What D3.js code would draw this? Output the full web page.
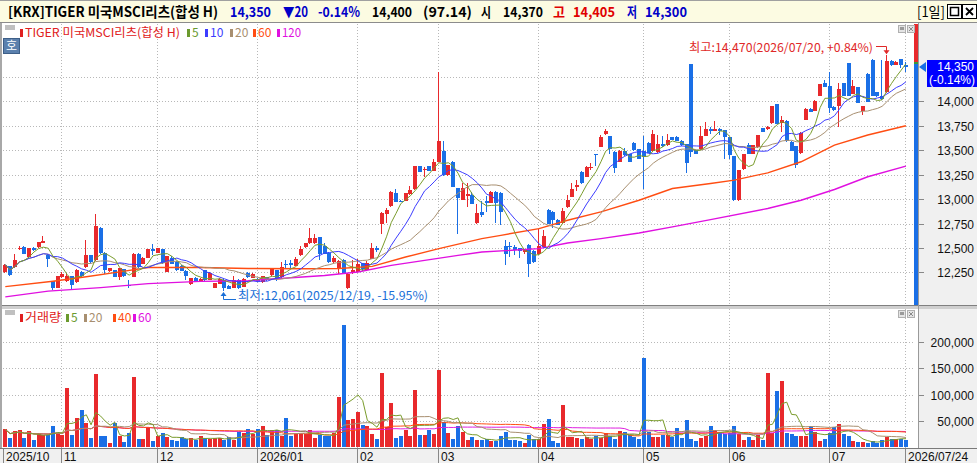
<!DOCTYPE html>
<html>
<head>
<meta charset="utf-8">
<script src="https://cdn.jsdelivr.net/npm/d3@7"></script>
<style>
  body { margin: 0; background: #fff; overflow: hidden; }
</style>
</head>
<body>
<svg id="chart" width="977" height="463"></svg>
<script>
// Daily candles, 2025/10/16 .. 2026/07/24
const opens = [12255,12315,12305,12495,12510,12405,12500,12505,12555,12425,
  12160,12095,12205,12160,12210,12150,12255,12305,12425,12375,
  12705,12450,12260,12270,12205,12280,12125,12205,12440,12340,
  12400,12485,12450,12485,12255,12400,12360,12320,12265,12130,
  12195,12160,12270,12175,12095,12135,12175,12115,12095,12175,
  12105,12245,12195,12185,12150,12200,12220,12270,12200,12340,
  12345,12320,12425,12505,12550,12550,12610,12525,12450,12355,
  12280,12380,12090,12255,12255,12345,12275,12390,12500,12750,
  12850,12925,13065,12985,12980,13050,13100,13335,13300,13335,
  13290,13380,13495,13245,13380,13110,12995,13030,13040,12755,
  12870,12980,12960,13075,13065,12525,12525,12510,12495,12460,
  12535,12470,12435,12510,12890,12870,12790,12755,12915,13025,
  13125,13280,13230,13315,13460,13535,13665,13640,13485,13380,
  13495,13460,13575,13510,13495,13575,13495,13480,13560,13550,
  13630,13630,13595,13560,14380,13500,13510,13645,13715,13700,
  13715,13705,13630,13440,12990,13305,13550,13465,13530,13725,
  13715,13775,13970,13775,13800,13585,13540,13470,13810,13925,
  13905,14055,14185,14155,13945,13950,14185,14390,14075,14145,
  13905,14280,14425,14090,14055,14090,14415,14375,14430,14370];

const highs = [12335,12320,12440,12525,12525,12500,12510,12565,12620,12440,
  12165,12215,12250,12240,12215,12280,12260,12585,12430,12845,
  12710,12455,12295,12275,12300,12285,12175,12445,12445,12410,
  12490,12545,12500,12490,12420,12420,12365,12325,12270,12195,
  12200,12190,12275,12250,12145,12190,12180,12120,12215,12180,
  12190,12250,12240,12190,12215,12205,12285,12275,12355,12375,
  12375,12405,12525,12555,12700,12645,12615,12550,12455,12415,
  12375,12390,12240,12380,12390,12350,12365,12550,12525,12865,
  12905,13080,13100,12990,13065,13130,13340,13340,13330,13340,
  13405,14295,13595,13350,13385,13115,13160,13160,13075,12950,
  12975,13030,13080,13080,13070,12580,12560,12530,12500,12490,
  12540,12475,12690,12680,12895,12875,12795,12905,13040,13165,
  13190,13285,13335,13370,13465,13655,13720,13645,13490,13500,
  13520,13465,13580,13515,13640,13580,13705,13655,13645,13665,
  13635,13645,13600,13565,14385,13505,13745,13790,13740,13800,
  13725,13710,13635,13445,13300,13465,13570,13555,13660,13730,
  13745,13955,13975,13850,13805,13590,13545,13685,13930,13935,
  14010,14180,14220,14295,13950,14185,14190,14395,14220,14150,
  13955,14285,14430,14095,14425,14470,14420,14410,14435,14405];

const lows = [12245,12210,12300,12475,12435,12400,12470,12500,12550,12310,
  12075,12090,12190,12155,12070,12145,12205,12300,12350,12370,
  12440,12235,12255,12200,12170,12205,12095,12200,12300,12335,
  12395,12425,12445,12340,12250,12335,12265,12260,12170,12125,
  12155,12155,12165,12170,12090,12130,12061,12080,12090,12080,
  12100,12190,12190,12150,12145,12165,12215,12165,12195,12290,
  12290,12315,12420,12500,12545,12545,12380,12435,12350,12350,
  12235,12230,12085,12235,12250,12265,12270,12385,12460,12645,
  12755,12920,12965,12965,12975,13045,13095,13275,13230,13285,
  13285,13375,13240,13240,13120,12645,12990,12920,12945,12750,
  12820,12870,12955,12755,12730,12330,12405,12425,12400,12435,
  12200,12350,12430,12505,12740,12700,12730,12750,12910,13020,
  13085,13155,13225,13300,13335,13530,13660,13465,13270,13375,
  13445,13375,13495,13405,13100,13470,13490,13475,13535,13545,
  13600,13590,13545,13270,13425,13460,13505,13640,13670,13695,
  13660,13405,13405,12980,12980,13300,13460,13460,13525,13685,
  13710,13770,13765,13690,13585,13490,13320,13465,13805,13890,
  13900,14050,14145,13875,13905,13735,14050,14050,14070,13980,
  13860,13990,14050,14040,14015,14085,14365,14370,14345,14300];

const closes = [12330,12220,12380,12500,12440,12495,12475,12560,12570,12385,
  12095,12210,12235,12210,12120,12270,12210,12425,12355,12720,
  12445,12270,12290,12205,12290,12210,12115,12440,12305,12400,
  12485,12470,12495,12345,12415,12340,12270,12265,12210,12190,
  12160,12185,12170,12245,12140,12185,12095,12085,12170,12095,
  12185,12200,12235,12160,12210,12170,12280,12195,12305,12325,
  12330,12390,12490,12550,12605,12605,12440,12440,12355,12400,
  12370,12235,12235,12275,12340,12280,12345,12500,12475,12860,
  12890,13075,12970,12970,13060,13090,13335,13280,13310,13290,
  13380,13595,13245,13345,13125,13015,13115,13050,12950,12860,
  12835,12955,13075,12960,12870,12435,12505,12475,12470,12485,
  12340,12355,12515,12620,12745,12790,12735,12880,12990,13105,
  13140,13160,13330,13330,13450,13635,13700,13510,13315,13495,
  13450,13380,13500,13410,13430,13475,13665,13560,13540,13600,
  13605,13595,13550,13365,13485,13465,13645,13715,13700,13720,
  13700,13630,13450,12990,13295,13460,13465,13550,13655,13690,
  13740,13950,13770,13805,13590,13495,13350,13680,13925,13895,
  14005,14175,14150,13930,13910,14125,14055,14055,14155,13985,
  13950,13995,14055,14050,14020,14415,14375,14405,14370,14350];

const volumes = [34000,18000,31000,33000,18000,31000,14000,27000,23000,23000,
  41000,27000,23000,113000,23000,56000,71000,46000,18000,140000,
  22000,22000,8000,46000,22000,10000,27000,134000,16000,16000,
  39000,12000,22000,27000,20000,14000,12000,19000,15000,17000,
  13000,22000,17000,16000,17000,17000,13000,19000,14000,30000,
  27000,35000,25000,35000,41000,23000,33000,33000,22000,56000,
  22000,27000,25000,25000,33000,17000,23000,22000,22000,27000,
  96000,232000,51000,53000,67000,42000,41000,25000,16000,142000,
  39000,85000,18000,22000,32000,22000,109000,23000,23000,32000,
  25000,147000,49000,27000,16000,41000,30000,14000,19000,14000,
  14000,15000,12000,12000,22000,29000,14000,14000,12000,8000,
  23000,15000,15000,44000,54000,12000,8000,80000,20000,19000,
  17000,16000,19000,16000,22000,17000,27000,22000,16000,31000,
  29000,23000,19000,16000,170000,29000,19000,19000,23000,23000,
  20000,36000,18000,52000,16000,12000,17000,22000,41000,32000,
  27000,25000,27000,41000,25000,14000,19000,14000,23000,14000,
  141000,27000,107000,126000,28000,25000,22000,22000,22000,41000,
  29000,12000,16000,27000,39000,44000,25000,22000,12000,10000,
  10000,9000,12000,9000,14000,19000,16000,16000,16000,14400];

// 60 / 120 day averages need history that is not on screen: read at sample points
const ma60Idx = [0,10,17,24,30,41,51,63,70,77,84,91,100,104,112,118,125,133,140,148,153,160,167,174,181,189];
const ma60Val = [12105,12160,12205,12255,12300,12300,12290,12288,12290,12312,12407,12493,12595,12629,12698,12783,12869,12988,13108,13159,13193,13268,13381,13552,13655,13750];
const ma120Idx = [0,9,20,30,41,51,67,74,81,88,95,100,112,118,125,133,140,148,160,167,174,181,189];
const ma120Val = [12000,12059,12094,12135,12158,12165,12219,12254,12322,12373,12424,12458,12493,12551,12595,12653,12715,12790,12903,12988,13098,13228,13337];

const monthLabels = ["2025/10","11","12","2026/01","02","03","04","05","06","07","2026/07/24"];
const monthIdx = [0,12,32,53,74,91,112,134,152,173,189];
const priceTicks = [12250,12500,12750,13000,13250,13500,13750,14000];
const priceGrid = [12250,12500,12750,13000,13250,13500,13750,14000,14250];
const volTicks = [50000,100000,150000,200000];

const RED = "#e8292c", BLUE = "#1a6fe6";
const KR = '"Noto Sans CJK KR", sans-serif';
const NUM = '"Liberation Sans", sans-serif';

const svg = d3.select("#chart");
const W = 977;
const plotRight = 913;
const priceTop = 23, priceBottom = 305, volTop = 309, volBottom = 447.5;

const x = d3.scaleLinear().domain([0, closes.length - 1]).range([5.3, 905.9]);
const y = d3.scaleLinear().domain([12250, 13750]).range([272.4, 125.7]);
const yv = d3.scaleLinear().domain([0, 200000]).range([447.3, 342.1]);

// moving average over the visible window (shorter window at the left edge)
function movingAvg(arr, n) {
  return arr.map((d, i) => d3.mean(arr.slice(Math.max(0, i - n + 1), i + 1)));
}
function numText(g, s, xx, yy, anchor, col) {
  return g.append("text").attr("x", xx).attr("y", yy).attr("text-anchor", anchor)
    .attr("font-family", NUM).attr("font-size", 12).attr("fill", col).text(s);
}

// ---- backgrounds
svg.append("rect").attr("width", W).attr("height", 463).attr("fill", "#fff");
svg.append("rect").attr("x", 0).attr("y", 0).attr("width", W).attr("height", 22).attr("fill", "#fcfbe2");
svg.append("line").attr("x1", 0).attr("x2", W).attr("y1", 0.5).attr("y2", 0.5).attr("stroke", "#a0a0a0");
svg.append("line").attr("x1", 0).attr("x2", W).attr("y1", 22.5).attr("y2", 22.5).attr("stroke", "#8c8c8c");
svg.append("rect").attr("x", 919).attr("y", 23).attr("width", 58).attr("height", 425).attr("fill", "#f0f0f0");
svg.append("rect").attr("x", 0).attr("y", 448).attr("width", W).attr("height", 15).attr("fill", "#f0f0f0");
svg.append("line").attr("x1", 0).attr("x2", W).attr("y1", 448.5).attr("y2", 448.5).attr("stroke", "#7a7a7a");
svg.append("rect").attr("x", 0).attr("y", priceBottom).attr("width", W).attr("height", 4).attr("fill", "#cfcfcf");
svg.append("line").attr("x1", 0).attr("x2", W).attr("y1", priceBottom + 0.5).attr("y2", priceBottom + 0.5).attr("stroke", "#808080");
svg.append("rect").attr("x", 0).attr("y", 23).attr("width", 2).attr("height", 425).attr("fill", "#a8a8a8");
svg.append("line").attr("x1", 918.5).attr("x2", 918.5).attr("y1", 23).attr("y2", 448).attr("stroke", "#9a9a9a");

// ---- grids
const grid = svg.append("g").attr("stroke", "#b8b8b8").attr("stroke-dasharray", "1,2").attr("shape-rendering", "crispEdges");
priceGrid.forEach(p => {
  const yy = Math.round(y(p)) + 0.5;
  grid.append("line").attr("x1", 3).attr("x2", plotRight).attr("y1", yy).attr("y2", yy);
});
volTicks.forEach(v => {
  const yy = Math.round(yv(v)) + 0.5;
  grid.append("line").attr("x1", 3).attr("x2", plotRight).attr("y1", yy).attr("y2", yy);
});
monthIdx.slice(1).forEach(i => {
  const xx = Math.round(x(i)) - 0.5;
  grid.append("line").attr("x1", xx).attr("x2", xx).attr("y1", priceTop + 1).attr("y2", priceBottom);
  grid.append("line").attr("x1", xx).attr("x2", xx).attr("y1", volTop).attr("y2", volBottom);
});

// ---- moving averages (price)
const lineIdx = d3.line().x((d, i) => x(i)).y(d => y(d));
const ma5 = movingAvg(closes, 5), ma10 = movingAvg(closes, 10), ma20 = movingAvg(closes, 20);
const sparse = (idx, val) => idx.map((d, k) => [x(d), y(val[k])]);

const maG = svg.append("g").attr("fill", "none");
maG.append("path").attr("d", d3.line()(sparse(ma120Idx, ma120Val))).attr("stroke", "#e010e0").attr("stroke-width", 1.4);
maG.append("path").attr("d", d3.line()(sparse(ma60Idx, ma60Val))).attr("stroke", "#ff4d12").attr("stroke-width", 1.4);

// ---- candles
const candleG = svg.append("g").attr("shape-rendering", "crispEdges");
closes.forEach((c, i) => {
  const cx = Math.round(x(i));
  const o = opens[i];
  const col = c >= o ? RED : BLUE;
  candleG.append("rect")
    .attr("x", cx - 1).attr("width", 1)
    .attr("y", y(highs[i])).attr("height", Math.max(1, y(lows[i]) - y(highs[i])))
    .attr("fill", col);
  const top = y(Math.max(o, c)), bot = y(Math.min(o, c));
  candleG.append("rect")
    .attr("x", cx - 2).attr("width", 4)
    .attr("y", top).attr("height", Math.max(1, bot - top))
    .attr("fill", col);
});

maG.raise();
maG.append("path").attr("d", lineIdx(ma20)).attr("stroke", "#a88f70").attr("stroke-width", 1);
maG.append("path").attr("d", lineIdx(ma10)).attr("stroke", "#3c3cff").attr("stroke-width", 1);
maG.append("path").attr("d", lineIdx(ma5)).attr("stroke", "#7a9c2c").attr("stroke-width", 1);

// ---- volume
const volG = svg.append("g").attr("shape-rendering", "crispEdges");
volumes.forEach((v, i) => {
  const cx = Math.round(x(i));
  volG.append("rect")
    .attr("x", cx - 2).attr("width", 4)
    .attr("y", Math.max(volTop, yv(v))).attr("height", yv(0) - Math.max(volTop, yv(v)))
    .attr("fill", closes[i] >= opens[i] ? RED : BLUE);
});
const vLine = d3.line().x((d, i) => x(i)).y(d => yv(d));
[[60, "#e020e0"], [40, "#ff4d12"], [20, "#a88f70"], [5, "#7a9c2c"]].forEach(([n, col]) => {
  svg.append("path").attr("d", vLine(movingAvg(volumes, n))).attr("fill", "none").attr("stroke", col).attr("stroke-width", 1);
});

// ---- right axes
const axG = svg.append("g");
priceTicks.forEach(p => {
  const yy = Math.round(y(p)) + 0.5;
  axG.append("line").attr("x1", 919).attr("x2", 924).attr("y1", yy).attr("y2", yy).attr("stroke", "#888");
  numText(axG, d3.format(",")(p), 974, yy + 4.5, "end", "#111");
});
volTicks.forEach(v => {
  const yy = Math.round(yv(v)) + 0.5;
  axG.append("line").attr("x1", 919).attr("x2", 924).attr("y1", yy).attr("y2", yy).attr("stroke", "#888");
  numText(axG, d3.format(",")(v), 974, yy + 4.5, "end", "#111");
});

// side gauge and current price flag
svg.append("rect").attr("x", 914).attr("y", 24).attr("width", 4).attr("height", 38).attr("fill", RED);
svg.append("rect").attr("x", 914).attr("y", 62).attr("width", 4).attr("height", 2).attr("fill", "#3a9a3a");
svg.append("rect").attr("x", 914).attr("y", 64).attr("width", 4).attr("height", priceBottom - 64).attr("fill", BLUE);
const last = closes[closes.length - 1];
svg.append("path").attr("d", `M919,${y(last)}L926,${y(last) - 5}L926,${y(last) + 5}Z`).attr("fill", BLUE);
svg.append("rect").attr("x", 927).attr("y", 60).attr("width", 50).attr("height", 27).attr("fill", "#0000ff");
numText(svg, d3.format(",")(last), 974, 70.5, "end", "#fff");
numText(svg, "(-0.14%)", 975, 84, "end", "#fff");

// ---- x axis labels
monthLabels.forEach((lab, k) => {
  const xx = Math.round(x(monthIdx[k])) - 0.5 - (k === 0 ? 1 : 0);
  svg.append("line").attr("x1", xx).attr("x2", xx).attr("y1", 449).attr("y2", 463).attr("stroke", "#888");
  numText(svg, lab, xx + 2.5, 460.5, "start", "#111");
});

// ---- header
const red = "#e00000", navy = "#0000c8";
const headerParts = [
  { t: "[KRX]TIGER 미국MSCI리츠(합성 H)", x: 8, w: 210, c: "#000" },
  { t: "14,350", x: 230, w: 41, c: navy }, { t: "▼20", x: 283, w: 25, c: navy },
  { t: "-0.14%", x: 318, w: 42, c: navy }, { t: "14,400", x: 372, w: 40, c: "#000" },
  { t: "(97.14)", x: 423, w: 49, c: "#000" }, { t: "시", x: 481, w: 10, c: "#000" },
  { t: "14,370", x: 503, w: 40, c: "#000" }, { t: "고", x: 553, w: 12, c: red },
  { t: "14,405", x: 573, w: 42, c: red }, { t: "저", x: 627, w: 10, c: navy },
  { t: "14,300", x: 645, w: 42, c: navy }, { t: "[1일]", x: 917, w: 28, c: "#000" }
];
headerParts.forEach(h => {
  svg.append("text").attr("x", h.x).attr("y", 17).attr("font-family", KR).attr("font-size", 14)
    .attr("font-weight", h.t === "[1일]" ? 400 : 700)
    .attr("textLength", h.w).attr("lengthAdjust", "spacingAndGlyphs").attr("fill", h.c).text(h.t);
});
svg.append("rect").attr("x", 947.5).attr("y", 4.5).attr("width", 14).attr("height", 14).attr("fill", "#fff").attr("stroke", "#000");
svg.append("rect").attr("x", 950.5).attr("y", 7.5).attr("width", 8).attr("height", 8).attr("fill", "none").attr("stroke", "#000").attr("stroke-width", 1.5);
svg.append("rect").attr("x", 962.5).attr("y", 4.5).attr("width", 14).attr("height", 14).attr("fill", "#fff").attr("stroke", "#000");
svg.append("path").attr("d", "M966,8L973,15M973,8L966,15").attr("stroke", "#000").attr("stroke-width", 1.8);

// ---- legends
function legend(items, yy) {
  items.forEach(it => {
    svg.append("rect").attr("x", it.x - 5).attr("y", yy - 8).attr("width", 3).attr("height", 8).attr("fill", it.c);
    const t = svg.append("text").attr("x", it.x).attr("y", yy).attr("font-family", KR).attr("font-size", 12)
      .attr("fill", it.c).text(it.t);
    if (it.w) t.attr("textLength", it.w).attr("lengthAdjust", "spacingAndGlyphs");
  });
}
svg.append("rect").attr("x", 5).attr("y", 25).attr("width", 10).attr("height", 5).attr("fill", "#c0c0c0");
legend([
  { t: "TIGER 미국MSCI리츠(합성 H)", x: 25, w: 155, c: "#e02020" },
  { t: "5", x: 192, c: "#6b9a2e" }, { t: "10", x: 210, c: "#3c3cff" },
  { t: "20", x: 235, c: "#a88f70" }, { t: "60", x: 258, c: "#ff4d12" },
  { t: "120", x: 282, w: 19, c: "#e010e0" }
], 37);
svg.append("rect").attr("x", 5).attr("y", 310).attr("width", 10).attr("height", 5).attr("fill", "#c0c0c0");
legend([
  { t: "거래량", x: 25, w: 36, c: "#e02020" }, { t: "5", x: 71, c: "#6b9a2e" },
  { t: "20", x: 89, c: "#a88f70" }, { t: "40", x: 118, c: "#ff4d12" }, { t: "60", x: 138, c: "#e010e0" }
], 322);

// 호 button
svg.append("rect").attr("x", 3.5).attr("y", 38.5).attr("width", 16).attr("height", 15).attr("fill", "#5b80ad").attr("stroke", "#3e5f88");
svg.append("text").attr("x", 11.5).attr("y", 50).attr("text-anchor", "middle").attr("font-family", KR)
  .attr("font-size", 12).attr("fill", "#fff").text("호");

// panel buttons
[25, 310].forEach(yy => {
  [898, 907].forEach((xx, k) => {
    svg.append("rect").attr("x", xx + 0.5).attr("y", yy + 0.5).attr("width", 7).attr("height", 7)
      .attr("fill", "#e4e4e4").attr("stroke", "#b0b0b0");
    if (k === 0) svg.append("rect").attr("x", xx + 2).attr("y", yy + 2).attr("width", 4).attr("height", 3).attr("fill", "#9a9a9a");
    else svg.append("path").attr("d", `M${xx + 2},${yy + 2}L${xx + 6},${yy + 6}M${xx + 6},${yy + 2}L${xx + 2},${yy + 6}`).attr("stroke", "#8a8a8a");
  });
});

// ---- high / low annotations
const hiIdx = highs.indexOf(d3.max(highs)), loIdx = lows.indexOf(d3.min(lows));
const hx = Math.round(x(hiIdx)) - 0.5, lx = Math.round(x(loIdx)) - 0.5;
svg.append("text").attr("x", 689).attr("y", 52).attr("font-family", KR).attr("font-size", 12)
  .attr("textLength", 184).attr("lengthAdjust", "spacingAndGlyphs").attr("fill", "#e02828")
  .text(`최고:${d3.format(",")(d3.max(highs))}(2026/07/20, +0.84%)`);
svg.append("path").attr("d", `M876,46.5H${hx}V${y(d3.max(highs)) - 2}`).attr("fill", "none").attr("stroke", "#e02828");
svg.append("path").attr("d", `M${hx - 3},${y(d3.max(highs)) - 5}L${hx + 3},${y(d3.max(highs)) - 5}L${hx},${y(d3.max(highs)) - 1}Z`).attr("fill", "#e02828");

svg.append("text").attr("x", 238).attr("y", 300).attr("font-family", KR).attr("font-size", 12)
  .attr("textLength", 190).attr("lengthAdjust", "spacingAndGlyphs").attr("fill", "#1a6fd8")
  .text(`최저:${d3.format(",")(d3.min(lows))}(2025/12/19, -15.95%)`);
svg.append("path").attr("d", `M${lx},${y(d3.min(lows)) + 2}V299.5H236`).attr("fill", "none").attr("stroke", "#1a6fd8");
svg.append("path").attr("d", `M${lx - 3},${y(d3.min(lows)) + 5}L${lx + 3},${y(d3.min(lows)) + 5}L${lx},${y(d3.min(lows)) + 1}Z`).attr("fill", "#1a6fd8");
</script>
</body>
</html>
